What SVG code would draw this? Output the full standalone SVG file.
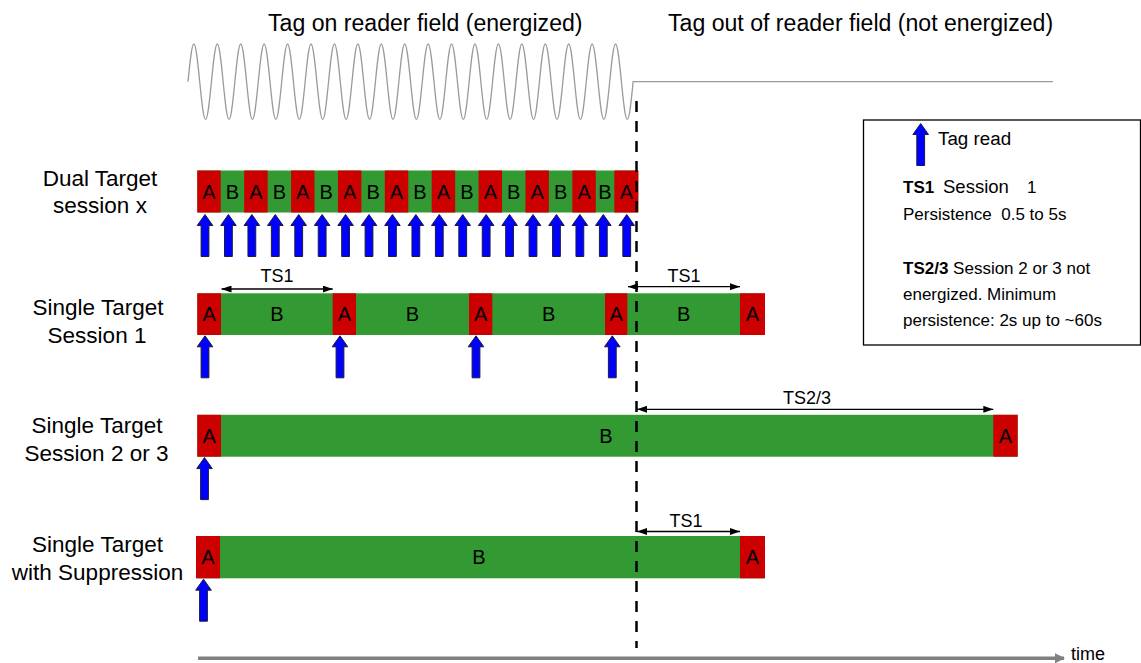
<svg xmlns="http://www.w3.org/2000/svg" width="1141" height="663" viewBox="0 0 1141 663">
<style>
text{font-family:"Liberation Sans",Arial,sans-serif;fill:#000}
.title{font-size:23.1px}
.row{font-size:22.5px;text-anchor:middle}
.cell{font-size:20px;text-anchor:middle}
.dim{font-size:18px;text-anchor:middle}
.leg{font-size:17px}
.red{fill:#CC0000}
.green{fill:#339933}
.wave{fill:none;stroke:#9a9a9a;stroke-width:1.3}
.dimline{stroke:#000;stroke-width:1.3;marker-start:url(#dimhead);marker-end:url(#dimhead)}
.tagread{fill:#0000FF;stroke:#1c1c3a;stroke-width:1}
</style>
<defs>
<marker id="dimhead" viewBox="0 0 10 7" refX="10" refY="3.5" markerWidth="10" markerHeight="7" markerUnits="userSpaceOnUse" orient="auto-start-reverse"><path d="M0,0 L10,3.5 L0,7 Z" fill="#000"/></marker>
<marker id="timehead" viewBox="0 0 10 10" refX="9" refY="5" markerWidth="10" markerHeight="10" markerUnits="userSpaceOnUse" orient="auto"><path d="M0,0 L10,5 L0,10 Z" fill="#808080"/></marker>
<path id="tagread" class="tagread" d="M0,0 L7.8,11 L3.9,11 L3.9,42 L-3.9,42 L-3.9,11 L-7.8,11 Z"/>
</defs>
<rect width="1141" height="663" fill="#fff"/>

<g id="titles">
<text class="title" x="268" y="31">Tag on reader field (energized)</text>
<text class="title" x="668" y="31">Tag out of reader field (not energized)</text>
</g>

<g id="field-wave">
<path class="wave" d="M188,81.7 c1.91,-19.31 3.738,-37.7 5.857,-37.7 s3.947,18.39 5.857,37.7 s3.738,37.7 5.857,37.7 s3.947,-18.39 5.857,-37.7
 s3.738,-37.7 5.857,-37.7 s3.947,18.39 5.857,37.7 s3.738,37.7 5.857,37.7 s3.947,-18.39 5.857,-37.7
 s3.738,-37.7 5.857,-37.7 s3.947,18.39 5.857,37.7 s3.738,37.7 5.857,37.7 s3.947,-18.39 5.857,-37.7
 s3.738,-37.7 5.857,-37.7 s3.947,18.39 5.857,37.7 s3.738,37.7 5.857,37.7 s3.947,-18.39 5.857,-37.7
 s3.738,-37.7 5.857,-37.7 s3.947,18.39 5.857,37.7 s3.738,37.7 5.857,37.7 s3.947,-18.39 5.857,-37.7
 s3.738,-37.7 5.857,-37.7 s3.947,18.39 5.857,37.7 s3.738,37.7 5.857,37.7 s3.947,-18.39 5.857,-37.7
 s3.738,-37.7 5.857,-37.7 s3.947,18.39 5.857,37.7 s3.738,37.7 5.857,37.7 s3.947,-18.39 5.857,-37.7
 s3.738,-37.7 5.857,-37.7 s3.947,18.39 5.857,37.7 s3.738,37.7 5.857,37.7 s3.947,-18.39 5.857,-37.7
 s3.738,-37.7 5.857,-37.7 s3.947,18.39 5.857,37.7 s3.738,37.7 5.857,37.7 s3.947,-18.39 5.857,-37.7
 s3.738,-37.7 5.857,-37.7 s3.947,18.39 5.857,37.7 s3.738,37.7 5.857,37.7 s3.947,-18.39 5.857,-37.7
 s3.738,-37.7 5.857,-37.7 s3.947,18.39 5.857,37.7 s3.738,37.7 5.857,37.7 s3.947,-18.39 5.857,-37.7
 s3.738,-37.7 5.857,-37.7 s3.947,18.39 5.857,37.7 s3.738,37.7 5.857,37.7 s3.947,-18.39 5.857,-37.7
 s3.738,-37.7 5.857,-37.7 s3.947,18.39 5.857,37.7 s3.738,37.7 5.857,37.7 s3.947,-18.39 5.857,-37.7
 s3.738,-37.7 5.857,-37.7 s3.947,18.39 5.857,37.7 s3.738,37.7 5.857,37.7 s3.947,-18.39 5.857,-37.7
 s3.738,-37.7 5.857,-37.7 s3.947,18.39 5.857,37.7 s3.738,37.7 5.857,37.7 s3.947,-18.39 5.857,-37.7
 s3.738,-37.7 5.857,-37.7 s3.947,18.39 5.857,37.7 s3.738,37.7 5.857,37.7 s3.947,-18.39 5.857,-37.7
 s3.738,-37.7 5.857,-37.7 s3.947,18.39 5.857,37.7 s3.738,37.7 5.857,37.7 s3.947,-18.39 5.857,-37.7
 s3.738,-37.7 5.857,-37.7 s3.947,18.39 5.857,37.7 s3.738,37.7 5.857,37.7 s3.947,-18.39 5.857,-37.7
 s3.738,-37.7 5.857,-37.7 s3.947,18.39 5.857,37.7 s3.738,37.7 5.857,37.7 s3.947,-18.39 5.857,-37.7
 H1053"/>
</g>

<g id="row-labels">
<text class="row" x="100" y="186">Dual Target</text>
<text class="row" x="100" y="213">session x</text>
<text class="row" x="98" y="315">Single Target</text>
<text class="row" x="97" y="343">Session 1</text>
<text class="row" x="97" y="433">Single Target</text>
<text class="row" x="96.5" y="461">Session 2 or 3</text>
<text class="row" x="97.5" y="552">Single Target</text>
<text class="row" x="97.5" y="580">with Suppression</text>
</g>

<g id="dual-target">
<rect class="green" x="197.3" y="170.5" width="441" height="42"/>
<rect class="red" x="197.3" y="170.5" width="23.44" height="42"/>
<rect class="red" x="244.18" y="170.5" width="23.44" height="42"/>
<rect class="red" x="291.06" y="170.5" width="23.44" height="42"/>
<rect class="red" x="337.94" y="170.5" width="23.44" height="42"/>
<rect class="red" x="384.82" y="170.5" width="23.44" height="42"/>
<rect class="red" x="431.7" y="170.5" width="23.44" height="42"/>
<rect class="red" x="478.58" y="170.5" width="23.44" height="42"/>
<rect class="red" x="525.46" y="170.5" width="23.44" height="42"/>
<rect class="red" x="572.34" y="170.5" width="23.44" height="42"/>
<rect class="red" x="614.3" y="170.5" width="24" height="42"/>
<text class="cell" x="209.02" y="198.7">A</text>
<text class="cell" x="232.46" y="198.7">B</text>
<text class="cell" x="255.9" y="198.7">A</text>
<text class="cell" x="279.34" y="198.7">B</text>
<text class="cell" x="302.78" y="198.7">A</text>
<text class="cell" x="326.22" y="198.7">B</text>
<text class="cell" x="349.66" y="198.7">A</text>
<text class="cell" x="373.1" y="198.7">B</text>
<text class="cell" x="396.54" y="198.7">A</text>
<text class="cell" x="419.98" y="198.7">B</text>
<text class="cell" x="443.42" y="198.7">A</text>
<text class="cell" x="466.86" y="198.7">B</text>
<text class="cell" x="490.3" y="198.7">A</text>
<text class="cell" x="513.74" y="198.7">B</text>
<text class="cell" x="537.18" y="198.7">A</text>
<text class="cell" x="560.62" y="198.7">B</text>
<text class="cell" x="584.06" y="198.7">A</text>
<text class="cell" x="605.04" y="198.7">B</text>
<text class="cell" x="626.3" y="198.7">A</text>
</g>

<g id="single-session1">
<rect class="green" x="197.3" y="293.3" width="567.7" height="41.7"/>
<rect class="red" x="197.3" y="293.3" width="23.7" height="41.7"/>
<rect class="red" x="332.7" y="293.3" width="23.3" height="41.7"/>
<rect class="red" x="469" y="293.3" width="23.3" height="41.7"/>
<rect class="red" x="605" y="293.3" width="22.3" height="41.7"/>
<rect class="red" x="740" y="293.3" width="25" height="41.7"/>
<text class="cell" x="209.2" y="321.3">A</text>
<text class="cell" x="276.9" y="321.3">B</text>
<text class="cell" x="344.3" y="321.3">A</text>
<text class="cell" x="412.5" y="321.3">B</text>
<text class="cell" x="480.7" y="321.3">A</text>
<text class="cell" x="548.7" y="321.3">B</text>
<text class="cell" x="616.2" y="321.3">A</text>
<text class="cell" x="683.7" y="321.3">B</text>
<text class="cell" x="752.5" y="321.3">A</text>
</g>

<g id="single-session23">
<rect class="green" x="197.3" y="414.8" width="820.4" height="41.9"/>
<rect class="red" x="197.3" y="414.8" width="23.7" height="41.9"/>
<rect class="red" x="993.3" y="414.8" width="24.4" height="41.9"/>
<text class="cell" x="209.2" y="442.8">A</text>
<text class="cell" x="606" y="442.8">B</text>
<text class="cell" x="1005.5" y="442.8">A</text>
</g>

<g id="single-suppression">
<rect class="green" x="196" y="536" width="569" height="42.3"/>
<rect class="red" x="196" y="536" width="24" height="42.3"/>
<rect class="red" x="740" y="536" width="25" height="42.3"/>
<text class="cell" x="208" y="564.2">A</text>
<text class="cell" x="479" y="564.2">B</text>
<text class="cell" x="752.5" y="564.2">A</text>
</g>

<g id="legend">
<rect x="863.5" y="120" width="277" height="225" fill="#fff" stroke="#000" stroke-width="1.3"/>
<use href="#tagread" x="920.7" y="123.5"/>
<text x="938" y="145" style="font-size:18.8px">Tag read</text>
<text class="leg" x="903" y="193"><tspan font-weight="bold">TS1</tspan><tspan x="943" style="font-size:18.5px">Session</tspan><tspan x="1027">1</tspan></text>
<text class="leg" x="903" y="219.5" xml:space="preserve">Persistence  0.5 to 5s</text>
<text class="leg" x="903" y="273.5"><tspan font-weight="bold">TS2/3</tspan> Session 2 or 3 not</text>
<text class="leg" x="903" y="300">energized. Minimum</text>
<text class="leg" x="903" y="326.3">persistence: 2s up to ~60s</text>
</g>

<g id="connectors">
<line x1="636.5" y1="101" x2="636.5" y2="648" stroke="#000" stroke-width="2.5" stroke-dasharray="11 9"/>
<line class="dimline" x1="221.5" y1="289" x2="332.7" y2="289"/>
<text class="dim" x="277" y="282">TS1</text>
<line class="dimline" x1="628" y1="286.7" x2="740" y2="286.7"/>
<text class="dim" x="684" y="281.5">TS1</text>
<line class="dimline" x1="637" y1="409.3" x2="993.3" y2="409.3"/>
<text class="dim" x="807" y="403.5">TS2/3</text>
<line class="dimline" x1="637" y1="531.5" x2="740" y2="531.5"/>
<text class="dim" x="686" y="526.5">TS1</text>
<g id="tag-reads">
<use href="#tagread" x="205" y="214.5"/>
<use href="#tagread" x="228.43" y="214.5"/>
<use href="#tagread" x="251.86" y="214.5"/>
<use href="#tagread" x="275.29" y="214.5"/>
<use href="#tagread" x="298.72" y="214.5"/>
<use href="#tagread" x="322.15" y="214.5"/>
<use href="#tagread" x="345.58" y="214.5"/>
<use href="#tagread" x="369.01" y="214.5"/>
<use href="#tagread" x="392.44" y="214.5"/>
<use href="#tagread" x="415.87" y="214.5"/>
<use href="#tagread" x="439.3" y="214.5"/>
<use href="#tagread" x="462.73" y="214.5"/>
<use href="#tagread" x="486.16" y="214.5"/>
<use href="#tagread" x="509.59" y="214.5"/>
<use href="#tagread" x="533.02" y="214.5"/>
<use href="#tagread" x="556.45" y="214.5"/>
<use href="#tagread" x="579.88" y="214.5"/>
<use href="#tagread" x="603.31" y="214.5"/>
<use href="#tagread" x="626.74" y="214.5"/>
<use href="#tagread" x="205" y="335.8"/>
<use href="#tagread" x="340" y="335.8"/>
<use href="#tagread" x="476" y="335.8"/>
<use href="#tagread" x="612.3" y="335.8"/>
<use href="#tagread" x="204.5" y="457.6"/>
<use href="#tagread" x="203.5" y="579.2"/>
</g>
<line x1="198" y1="658.3" x2="1064" y2="658.3" stroke="#808080" stroke-width="3.5" marker-end="url(#timehead)"/>
<text x="1071" y="660" font-size="18">time</text>
</g>
</svg>
